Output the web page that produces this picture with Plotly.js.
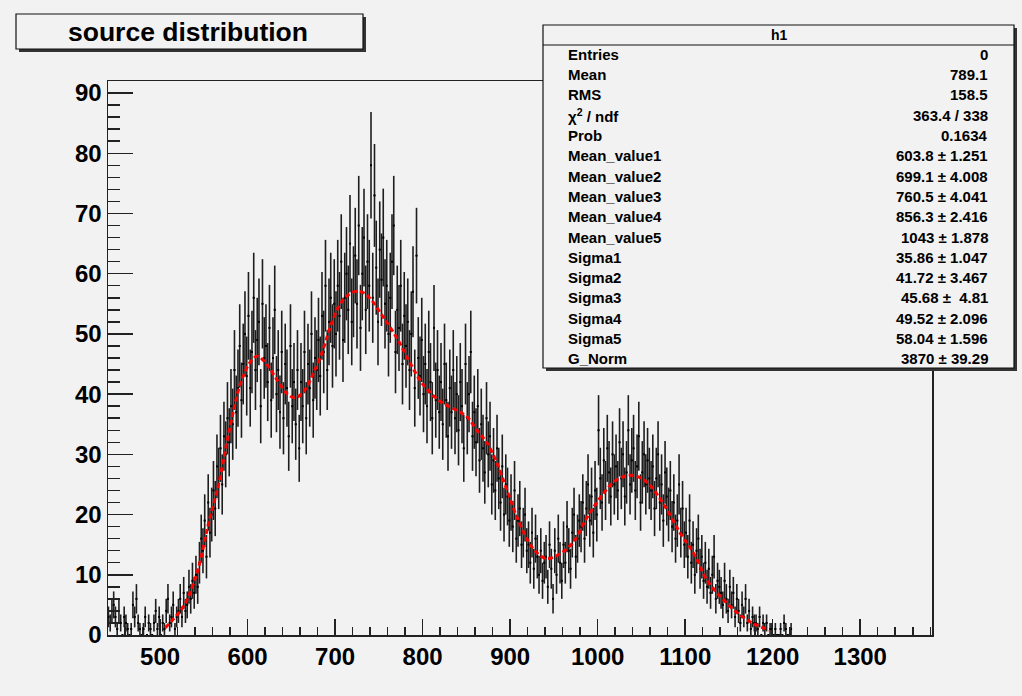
<!DOCTYPE html>
<html><head><meta charset="utf-8">
<script src="https://cdn.plot.ly/plotly-3.0.1.min.js"></script>
<style>html,body{margin:0;padding:0;background:#f2f2f2;}#chart{width:1022px;height:696px;}</style>
</head><body><div id="chart"></div>
<script>
// ---- data ----
const firstBinCenter = 441;
const binWidth = 2;
const counts = [
  3,2,4,5,3,1,4,2,0,3,
  2,1,0,1,5,3,6,2,1,0,
  1,3,0,2,1,0,2,4,1,3,
  0,2,1,4,6,2,3,5,1,3,
  4,6,3,7,4,5,8,6,9,7,
  10,8,12,16,14,19,13,22,17,20,
  24,21,28,26,31,25,33,30,36,32,
  38,35,44,37,41,48,39,45,50,43,
  53,41,47,56,44,49,52,38,55,46,
  48,42,51,39,46,54,40,44,37,47,
  36,45,41,33,48,38,42,35,44,31,
  42,38,47,36,45,41,50,39,46,44,
  49,43,53,47,58,44,52,56,48,55,
  50,58,53,62,49,56,60,54,65,52,
  57,63,55,68,51,60,66,54,62,58,
  78,56,73,61,52,64,59,66,55,58,
  50,56,62,68,47,54,51,58,45,53,
  48,52,44,50,57,41,63,46,43,49,
  40,45,38,47,42,36,51,39,44,37,
  42,35,45,39,33,41,37,44,36,40,
  34,42,38,31,45,36,40,47,33,37,
  32,38,29,35,31,27,36,30,33,25,
  29,24,31,26,22,28,20,25,23,19,
  22,18,24,16,19,21,15,17,20,14,
  15,12,17,11,16,13,10,14,9,12,
  13,8,15,11,6,14,10,16,12,9,
  15,12,18,14,11,17,20,13,16,19,
  18,22,16,21,25,19,23,17,24,20,
  34,26,22,29,24,31,27,23,30,25,
  28,24,32,26,30,23,27,34,25,29,
  31,24,28,33,22,27,30,25,29,26,
  24,28,21,26,30,22,25,19,27,23,
  20,24,18,22,16,19,25,17,21,15,
  17,13,19,12,15,10,14,16,11,13,
  9,12,8,11,7,10,13,6,9,8,
  7,5,9,6,4,8,5,7,3,6,
  4,2,5,3,6,2,4,1,3,2,
  2,1,3,0,2,1,2,0,1,1,
  0,1,0,0,1,0,2,1,0,0,1
];
const fitX = [506,515,527,542,555,567,580,592,603,611,620,634,645,654,664,675,686,695,706,716,725,733,740,755,771,786,801,820,839,851,862,874,885,896,910,926,941,957,972,987,1002,1021,1040,1056,1075,1094,1110,1125,1144,1163,1178,1196];
const fitY = [1.2,2.6,4.8,10.2,18.3,25.1,34.6,41.8,45.3,46.3,45.3,42.3,40.1,39.4,40.4,43.4,47.3,51.4,55.0,56.6,57.1,56.8,55.9,52.8,49.2,45.1,41.5,38.8,37.3,36.2,34.0,31.8,28.5,24.2,18.8,14.4,12.7,13.5,15.4,19.3,22.6,25.7,26.5,25.4,21.8,17.0,13.5,9.1,5.8,3.3,1.9,0.8];
const chartTitle = 'source distribution';
const statsName = 'h1';
const statLabels = ['Entries','Mean','RMS','\u03c7<sup>2</sup> / ndf','Prob','Mean_value1','Mean_value2','Mean_value3','Mean_value4','Mean_value5','Sigma1','Sigma2','Sigma3','Sigma4','Sigma5','G_Norm'];
const statValues = ['0','789.1','158.5','363.4 / 338','0.1634','603.8 \u00b1 1.251','699.1 \u00b1 4.008','760.5 \u00b1 4.041','856.3 \u00b1 2.416','1043 \u00b1 1.878','35.86 \u00b1 1.047','41.72 \u00b1 3.467','45.68 \u00b1\u00a0\u00a04.81','49.52 \u00b1 2.096','58.04 \u00b1 1.596','3870 \u00b1 39.29'];

// ---- derived ----
const binCenters = counts.map((_, i) => firstBinCenter + i * binWidth);
const errors = counts.map(c => Math.sqrt(c));

const FONT = 'Liberation Sans, Arial, Helvetica, sans-serif';
const BG = '#f2f2f2';
const L = 108, T = 81, W = 824, H = 554;
const px = x => (x - L) / W;
const py = y => (T + H - y) / H;

const shapes = [
  {type:'rect', xref:'paper', yref:'paper', x0:px(19), x1:px(366), y0:py(17), y1:py(52), fillcolor:'#333', line:{width:0}, layer:'above'},
  {type:'rect', xref:'paper', yref:'paper', x0:px(16), x1:px(363), y0:py(14), y1:py(49), fillcolor:BG, line:{color:'#111', width:1.2}, layer:'above'},
  {type:'rect', xref:'paper', yref:'paper', x0:px(546), x1:px(1017), y0:py(28), y1:py(371), fillcolor:'#333', line:{width:0}, layer:'above'},
  {type:'rect', xref:'paper', yref:'paper', x0:px(543), x1:px(1014), y0:py(25), y1:py(368), fillcolor:BG, line:{color:'#111', width:1.2}, layer:'above'},
  {type:'line', xref:'paper', yref:'paper', x0:px(543), x1:px(1014), y0:py(45), y1:py(45), line:{color:'#111', width:1.2}, layer:'above'}
];

const annotations = [
  {xref:'paper', yref:'paper', x:px(188), y:py(32), text:chartTitle, showarrow:false, xanchor:'center', yanchor:'middle', font:{family:FONT, size:26.5, color:'#000', weight:'bold'}},
  {xref:'paper', yref:'paper', x:px(779), y:py(35), text:statsName, showarrow:false, xanchor:'center', yanchor:'middle', font:{family:FONT, size:14, color:'#000', weight:'bold'}}
];
statLabels.forEach((lab, i) => {
  const yy = 54.3 + i * 20.3;
  annotations.push({xref:'paper', yref:'paper', x:px(566), y:py(yy), text:lab, showarrow:false, xanchor:'left', yanchor:'middle', font:{family:FONT, size:15, color:'#000', weight:'bold'}});
  annotations.push({xref:'paper', yref:'paper', x:px(990), y:py(yy), text:statValues[i], showarrow:false, xanchor:'right', yanchor:'middle', font:{family:FONT, size:15, color:'#000', weight:'bold'}});
});

const axisCommon = {
  showgrid:false, zeroline:false, showline:true, mirror:true,
  linecolor:'#222', linewidth:1.5, ticks:'inside', tickwidth:1.5, tickcolor:'#222',
  tickfont:{family:FONT, size:24, color:'#000', weight:'bold'}, fixedrange:true
};

const data = [
  {type:'scatter', mode:'markers', x:binCenters, y:counts,
   marker:{size:2, color:'#000', symbol:'square'},
   error_y:{type:'data', array:errors, visible:true, thickness:1.6, width:0, color:'#1e1e1e'},
   error_x:{type:'constant', value:binWidth/2, visible:true, thickness:1, width:0, color:'#1e1e1e'},
   hoverinfo:'skip'},
  {type:'scatter', mode:'lines', x:fitX, y:fitY,
   line:{color:'#ff0000', width:3, dash:'5px,3px', shape:'spline'}, hoverinfo:'skip'}
];

const layout = {
  width:1022, height:696, paper_bgcolor:BG, plot_bgcolor:BG, showlegend:false,
  margin:{l:L, r:1022 - L - W, t:T, b:696 - T - H},
  xaxis:Object.assign({}, axisCommon, {range:[440.5, 1382], tick0:0, dtick:100, ticklen:16,
    minor:{tick0:0, dtick:20, ticks:'inside', ticklen:8, tickwidth:1.5, tickcolor:'#222', showgrid:false}}),
  yaxis:Object.assign({}, axisCommon, {range:[0, 92], tick0:0, dtick:10, ticklen:25,
    minor:{tick0:0, dtick:2, ticks:'inside', ticklen:12, tickwidth:1.5, tickcolor:'#222', showgrid:false}}),
  shapes:shapes, annotations:annotations
};

Plotly.newPlot('chart', data, layout, {displayModeBar:false, staticPlot:true});
</script></body></html>
